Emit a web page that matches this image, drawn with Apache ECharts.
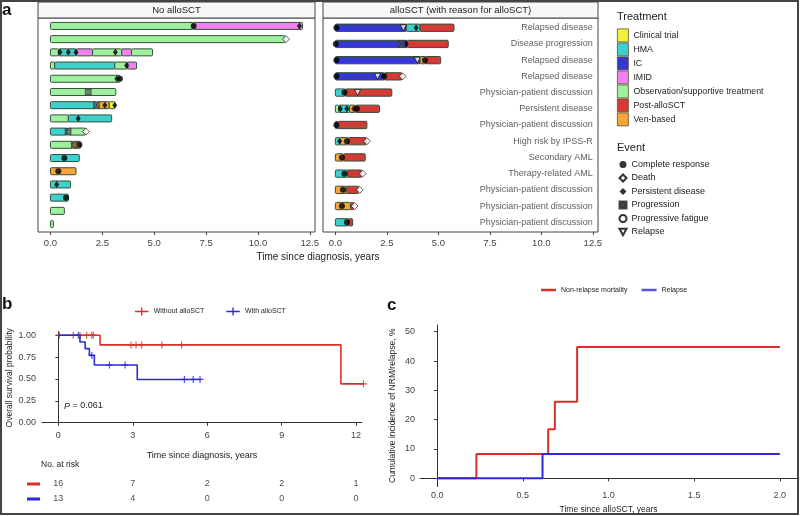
<!DOCTYPE html>
<html><head><meta charset="utf-8">
<script src="https://cdn.jsdelivr.net/npm/echarts@6/dist/echarts.min.js"></script>
<style>html,body{margin:0;padding:0;background:#fff}#c{width:800px;height:516px}</style>
</head><body><div id="c"></div>
<script>
// ---------- DATA ----------
const treatments = ['Clinical trial','HMA','IC','IMID','Observation/supportive treatment','Post-alloSCT','Ven-based'];
const events = ['Complete response','Death','Persistent disease','Progression','Progressive fatigue','Relapse'];
// [row, start, end, treatmentIndex]
const noSctSegments = [
  [1,0,6.88,4],[1,6.88,12.15,3],
  [2,0,11.3,4],
  [3,0,0.38,4],[3,0.38,1.26,1],[3,1.26,2.03,3],[3,2.03,3.43,4],[3,3.43,3.91,3],[3,3.91,4.92,4],
  [4,0,0.2,4],[4,0.2,3.1,1],[4,3.1,3.72,4],[4,3.72,4.15,3],
  [5,0,3.35,4],
  [6,0,3.15,4],
  [7,0,2.22,1],[7,2.22,2.83,6],[7,2.83,3.1,0],
  [8,0,0.86,4],[8,0.86,2.95,1],
  [9,0,0.8,1],[9,0.8,1.68,4],
  [10,0,1.05,4],[10,1.05,1.45,6],
  [11,0,1.39,1],
  [12,0,1.23,6],
  [13,0,0.97,1],
  [14,0,0.86,1],
  [15,0,0.67,4],
  [16,0,0.14,4]
];
// [row, time, eventIndex]
const noSctEvents = [
  [1,6.9,0],[1,12.0,2],[2,11.35,1],
  [3,0.46,2],[3,0.86,2],[3,1.23,2],[3,3.13,2],
  [4,3.67,2],[5,3.2,2],[5,3.35,0],[6,1.82,3],
  [7,2.22,3],[7,2.62,2],[7,3.1,2],[8,1.34,2],
  [9,0.85,3],[9,1.71,1],[10,1.15,3],[10,1.4,0],
  [11,0.67,0],[12,0.38,0],[13,0.3,2],[14,0.75,0]
];
const sctSegments = [
  [1,0,3.44,2],[1,3.44,4.11,1],[1,4.11,5.76,5],
  [2,0,3.5,2],[2,3.5,5.48,5],
  [3,0,4.11,2],[3,4.11,4.4,6],[3,4.4,5.11,5],
  [4,0,2.37,2],[4,2.37,3.23,5],
  [5,0,0.48,1],[5,0.48,2.74,5],
  [6,0,0.16,4],[6,0.16,0.69,1],[6,0.69,0.97,6],[6,0.97,2.14,5],
  [7,0,0.11,2],[7,0.11,1.53,5],
  [8,0,0.21,1],[8,0.21,0.64,6],[8,0.64,1.5,5],
  [9,0,0.4,6],[9,0.4,1.45,5],
  [10,0,0.6,1],[10,0.6,1.29,5],
  [11,0,0.53,6],[11,0.53,1.13,5],
  [12,0,0.73,6],[12,0.73,0.89,5],
  [13,0,0.64,1],[13,0.64,0.84,5]
];
const sctEvents = [
  [1,0.05,0],[1,3.3,5],[1,3.92,2],
  [2,0.02,0],[2,3.2,3],[2,3.44,2],
  [3,0.05,0],[3,3.98,5],[3,4.35,0],
  [4,0.05,0],[4,2.05,5],[4,2.37,0],[4,3.26,1],
  [5,0.44,0],[5,1.08,5],
  [6,0.24,2],[6,0.56,2],[6,0.9,2],[6,1.05,0],
  [7,0.05,0],
  [8,0.21,2],[8,0.56,0],[8,1.53,1],
  [9,0.32,0],
  [10,0.44,0],[10,1.32,1],
  [11,0.37,0],[11,1.18,1],
  [12,0.32,0],[12,0.93,1],
  [13,0.56,0]
];
const sctReasons = ['Relapsed disease','Disease progression','Relapsed disease','Relapsed disease',
  'Physician-patient discussion','Persistent disease','Physician-patient discussion','High risk by IPSS-R',
  'Secondary AML','Therapy-related AML','Physician-patient discussion','Physician-patient discussion',
  'Physician-patient discussion'];
const aTicks = [0,2.5,5,7.5,10,12.5];

// Panel b: Kaplan-Meier
const kmNoSct = [[0,1],[1.68,0.889],[11.39,0.444],[12.3,0.444]];
const kmSct = [[0,1],[0.87,0.923],[1.08,0.846],[1.25,0.769],[1.45,0.659],[3.18,0.494],[5.76,0.494]];
const censorNoSct = [[0.04,1],[0.6,1],[0.87,1],[1.14,1],[1.35,1],[1.41,1],[2.93,0.889],[3.13,0.889],[3.36,0.889],[4.17,0.889],[4.97,0.889],[12.3,0.444]];
const censorSct = [[0.8,1],[1.35,0.769],[2.06,0.659],[2.69,0.659],[5.08,0.494],[5.44,0.494],[5.71,0.494]];
const bXTicks = [0,3,6,9,12];
const bYTicks = [0,0.25,0.5,0.75,1];
const riskTimes = [0,3,6,9,12];
const riskNoSct = [16,7,2,2,1];
const riskSct = [13,4,0,0,0];
const groupNames = ['Without alloSCT','With alloSCT'];

// Panel c: cumulative incidence
const cNames = ['Non-relapse mortality','Relapse'];
const nrmCurve = [[0,0],[0.229,8.33],[0.648,16.7],[0.687,26.1],[0.817,44.8],[2.0,44.8]];
const relapseCurve = [[0,0],[0.615,8.33],[2.0,8.33]];
const cXTicks = [0,0.5,1,1.5,2];
const cYTicks = [0,10,20,30,40,50];

// ---------- STYLE ----------
const FONT = "'Liberation Sans', Arial, sans-serif";
const tColors = ['#f2f23c','#3ecfcf','#3636d0','#ee82ee','#9ef09e','#d63a35','#f5a63a'];
const RED = '#d7302a', BLUE = '#2b2bd6';
const evStyle = [
  {symbol:'circle', size:6, itemStyle:{color:'#000'}},
  {symbol:'diamond', size:7, itemStyle:{color:'#fff', borderColor:'#000', borderWidth:0.8}},
  {symbol:'diamond', size:[5,7], itemStyle:{color:'#000'}},
  {symbol:'path://M0,0H10V10H0Z M2,1 L1,2 L4,5 L1,8 L2,9 L5,6 L8,9 L9,8 L6,5 L9,2 L8,1 L5,4Z', size:6, itemStyle:{color:'#666', borderColor:'#222', borderWidth:0.6}},
  {symbol:'circle', size:5, itemStyle:{color:'#fff', borderColor:'#000', borderWidth:0.8}},
  {symbol:'path://M0,0H10L5,9Z', size:6, itemStyle:{color:'#fff', borderColor:'#000', borderWidth:0.8}}
];
const plusSym = 'path://M-0.6,-3.5H0.6V-0.6H3.5V0.6H0.6V3.5H-0.6V0.6H-3.5V-0.6H-0.6Z';

function segRender(frac){
  return function(params, api){
    const row = api.value(0);
    const s = api.coord([api.value(1), row]);
    const e = api.coord([api.value(2), row]);
    const h = api.size([0,1])[1]*frac;
    return {type:'rect', shape:{x:s[0], y:s[1]-h/2, width:Math.max(e[0]-s[0],2), height:h, r:1},
      style:{fill:api.visual('color'), stroke:'#35503a', lineWidth:1}};
  };
}

const series = [];
[[noSctSegments,0,0.53],[sctSegments,1,0.45]].forEach(([segs,gi,frac])=>{
  treatments.forEach((t,ti)=>{
    series.push({type:'custom', name:t, xAxisIndex:gi, yAxisIndex:gi,
      itemStyle:{color:tColors[ti], borderColor:'#444', borderWidth:1},
      renderItem:segRender(frac), encode:{x:[1,2], y:0},
      data: segs.filter(s=>s[3]===ti).map(s=>[s[0],s[1],s[2]])});
  });
});
[[noSctEvents,0],[sctEvents,1]].forEach(([evs,gi])=>{
  events.forEach((ev,ei)=>{
    series.push({type:'scatter', name:ev, xAxisIndex:gi, yAxisIndex:gi, z:5,
      symbol:evStyle[ei].symbol, symbolSize:evStyle[ei].size, itemStyle:evStyle[ei].itemStyle,
      data: evs.filter(e=>e[2]===ei).map(e=>[e[1],e[0]])});
  });
});
series.push({type:'scatter', name:'reasons', xAxisIndex:1, yAxisIndex:1, symbolSize:0, silent:true,
  data: sctReasons.map((r,i)=>[12.5,i+1,r]),
  label:{show:true, position:'left', distance:0, formatter:p=>p.value[2], fontSize:9, color:'#333', fontFamily:FONT}});
series.push({type:'line', name:groupNames[0], xAxisIndex:2, yAxisIndex:2, step:'end', showSymbol:false, clip:false,
  data:kmNoSct, lineStyle:{color:RED, width:1.6}, itemStyle:{color:RED}});
series.push({type:'scatter', name:groupNames[0], xAxisIndex:2, yAxisIndex:2, symbol:plusSym, symbolSize:7, clip:false,
  data:censorNoSct, itemStyle:{color:RED}});
series.push({type:'line', name:groupNames[1], xAxisIndex:2, yAxisIndex:2, step:'end', showSymbol:false, clip:false,
  data:kmSct, lineStyle:{color:BLUE, width:1.6}, itemStyle:{color:BLUE}});
series.push({type:'scatter', name:groupNames[1], xAxisIndex:2, yAxisIndex:2, symbol:plusSym, symbolSize:7, clip:false,
  data:censorSct, itemStyle:{color:BLUE}});
[[riskNoSct,0],[riskSct,1]].forEach(([vals,gi])=>{
  series.push({type:'scatter', name:'risk'+gi, xAxisIndex:3, yAxisIndex:3, symbolSize:0, silent:true, clip:false,
    data: riskTimes.map((t,i)=>[t,gi,vals[i]]),
    label:{show:true, position:'inside', formatter:p=>String(p.value[2]), fontSize:9, color:'#222', fontFamily:FONT}});
});
series.push({type:'line', name:cNames[0], xAxisIndex:4, yAxisIndex:4, step:'end', showSymbol:false,
  data:nrmCurve, lineStyle:{color:RED, width:2}, itemStyle:{color:RED}});
series.push({type:'line', name:cNames[1], xAxisIndex:4, yAxisIndex:4, step:'end', showSymbol:false,
  data:relapseCurve, lineStyle:{color:BLUE, width:2}, itemStyle:{color:BLUE}});

const axLbl = (fmt, extra) => Object.assign({fontSize:9, color:'#444', fontFamily:FONT, formatter:fmt}, extra||{});
const option = {
  animation:false,
  textStyle:{fontFamily:FONT},
  grid:[
    {left:38, top:18, width:277, height:214, show:true, borderColor:'#444', borderWidth:1},
    {left:323, top:18, width:275, height:214, show:true, borderColor:'#444', borderWidth:1},
    {left:42, top:331.7, width:320, height:92.3},
    {left:42, top:476.5, width:320, height:30},
    {left:420, top:325, width:377, height:161.5}
  ],
  xAxis:[
    {gridIndex:0, type:'value', min:-0.6, max:12.75, splitLine:{show:false}, axisLine:{show:false},
      axisTick:{customValues:aTicks, length:3, lineStyle:{color:'#444'}},
      axisLabel:axLbl(v=>v.toFixed(1), {customValues:aTicks, margin:6, fontSize:9.5})},
    {gridIndex:1, type:'value', min:-0.6, max:12.75, splitLine:{show:false}, axisLine:{show:false},
      axisTick:{customValues:aTicks, length:3, lineStyle:{color:'#444'}},
      axisLabel:axLbl(v=>v.toFixed(1), {customValues:aTicks, margin:6, fontSize:9.5})},
    {gridIndex:2, type:'value', min:-0.66, max:12.24, splitLine:{show:false},
      axisLine:{lineStyle:{color:'#333'}}, axisTick:{customValues:bXTicks, length:3, lineStyle:{color:'#333'}},
      axisLabel:axLbl(v=>String(v), {customValues:bXTicks, margin:7}),
      name:'Time since diagnosis, years', nameLocation:'middle', nameGap:27,
      nameTextStyle:{fontSize:9, color:'#222', fontFamily:FONT}},
    {gridIndex:3, type:'value', min:-0.66, max:12.24, show:false},
    {gridIndex:4, type:'value', min:-0.1, max:2.1, splitLine:{show:false},
      axisLine:{lineStyle:{color:'#333'}}, axisTick:{customValues:cXTicks, length:3, lineStyle:{color:'#333'}},
      axisLabel:axLbl(v=>v.toFixed(1), {customValues:cXTicks, margin:5}),
      name:'Time since alloSCT, years', nameLocation:'middle', nameGap:19,
      nameTextStyle:{fontSize:8.5, color:'#222', fontFamily:FONT}}
  ],
  yAxis:[
    {gridIndex:0, type:'value', min:0.4, max:16.6, inverse:true, show:false},
    {gridIndex:1, type:'value', min:0.4, max:13.6, inverse:true, show:false},
    {gridIndex:2, type:'value', min:-0.015, max:1.04, splitLine:{show:false},
      axisLine:{show:true, lineStyle:{color:'#333'}}, axisTick:{show:true, customValues:bYTicks, length:3, lineStyle:{color:'#333'}},
      axisLabel:axLbl(v=>v.toFixed(2), {customValues:bYTicks, margin:6}),
      name:'Overall survival probability', nameLocation:'middle', nameGap:27,
      nameTextStyle:{fontSize:8.5, color:'#222', fontFamily:FONT}},
    {gridIndex:3, type:'category', data:groupNames, inverse:true, axisLine:{show:false}, axisTick:{show:false},
      axisLabel:{margin:2, interval:0, formatter:(v,i)=> i===0?'{r|}':'{b|}',
        rich:{r:{width:13, height:3, backgroundColor:RED}, b:{width:13, height:3, backgroundColor:BLUE}}}},
    {gridIndex:4, type:'value', min:-2.8, max:52.3, splitLine:{show:false},
      axisLine:{show:true, lineStyle:{color:'#333'}}, axisTick:{show:true, customValues:cYTicks, length:3, lineStyle:{color:'#333'}},
      axisLabel:axLbl(v=>String(v), {customValues:cYTicks, margin:5}),
      name:'Cumulative incidence of NRM/relapse, %', nameLocation:'middle', nameGap:23,
      nameTextStyle:{fontSize:8.5, color:'#222', fontFamily:FONT}}
  ],
  legend:[
    {data:treatments.map(t=>({name:t, icon:'rect'})), orient:'vertical', left:617, top:28.5, padding:0,
      itemWidth:11, itemHeight:13, itemGap:0.2, selectedMode:false,
      itemStyle:{borderColor:'#5a5030', borderWidth:0.8},
      textStyle:{fontSize:8.8, color:'#222', lineHeight:12, fontFamily:FONT}},
    {data:events, orient:'vertical', left:618.5, top:158.5, padding:0, itemWidth:7, itemHeight:7, itemGap:1.5, selectedMode:false,
      textStyle:{fontSize:9, color:'#222', lineHeight:12, fontFamily:FONT}},
    {data:groupNames.map(n=>({name:n, icon:'path://M0,4H16V5.5H0Z M7.2,0H8.8V9.5H7.2Z'})), left:135, top:307.5, padding:0,
      itemWidth:14, itemHeight:8, itemGap:22, selectedMode:false,
      textStyle:{fontSize:7, color:'#222', fontFamily:FONT}},
    {data:[{name:cNames[0], icon:'rect', itemStyle:{color:RED, borderWidth:0}},
           {name:cNames[1], icon:'rect', itemStyle:{color:BLUE, borderWidth:0}}], left:541, top:286.5, padding:0,
      itemWidth:15, itemHeight:2.5, itemGap:14, selectedMode:false,
      textStyle:{fontSize:7, color:'#222', fontFamily:FONT}}
  ],
  graphic:[
    {type:'rect', shape:{x:1, y:1, width:797, height:513}, style:{fill:'none', stroke:'#444', lineWidth:2}, silent:true},
    {type:'rect', shape:{x:38, y:2, width:277, height:16}, style:{fill:'#f7f7f7', stroke:'#444', lineWidth:1}},
    {type:'text', x:176.5, y:10, style:{text:'No alloSCT', fontSize:9.5, fill:'#222', align:'center', verticalAlign:'middle', fontFamily:FONT}},
    {type:'rect', shape:{x:323, y:2, width:275, height:16}, style:{fill:'#f7f7f7', stroke:'#444', lineWidth:1}},
    {type:'text', x:460.5, y:10, style:{text:'alloSCT (with reason for alloSCT)', fontSize:9.5, fill:'#222', align:'center', verticalAlign:'middle', fontFamily:FONT}},
    {type:'text', x:318, y:257, style:{text:'Time since diagnosis, years', fontSize:10, fill:'#222', align:'center', verticalAlign:'middle', fontFamily:FONT}},
    {type:'text', x:617, y:17, style:{text:'Treatment', fontSize:11, fill:'#222', verticalAlign:'middle', fontFamily:FONT}},
    {type:'text', x:617, y:148, style:{text:'Event', fontSize:11, fill:'#222', verticalAlign:'middle', fontFamily:FONT}},
    {type:'text', x:2, y:10, style:{text:'a', fontSize:17, fontWeight:'bold', fill:'#111', verticalAlign:'middle', fontFamily:FONT}},
    {type:'text', x:2, y:304, style:{text:'b', fontSize:17, fontWeight:'bold', fill:'#111', verticalAlign:'middle', fontFamily:FONT}},
    {type:'text', x:387, y:305, style:{text:'c', fontSize:17, fontWeight:'bold', fill:'#111', verticalAlign:'middle', fontFamily:FONT}},
    {type:'text', x:64, y:406, style:{text:'{i|P} = 0.061', fontSize:9, fill:'#222', verticalAlign:'middle', fontFamily:FONT,
      rich:{i:{fontStyle:'italic', fontSize:9, fontFamily:FONT}}}},
    {type:'text', x:41, y:465, style:{text:'No. at risk', fontSize:8.5, fill:'#222', verticalAlign:'middle', fontFamily:FONT}}
  ],
  series: series
};
const chart = echarts.init(document.getElementById('c'), null, {renderer:'canvas'});
chart.setOption(option);
</script>
</body></html>
